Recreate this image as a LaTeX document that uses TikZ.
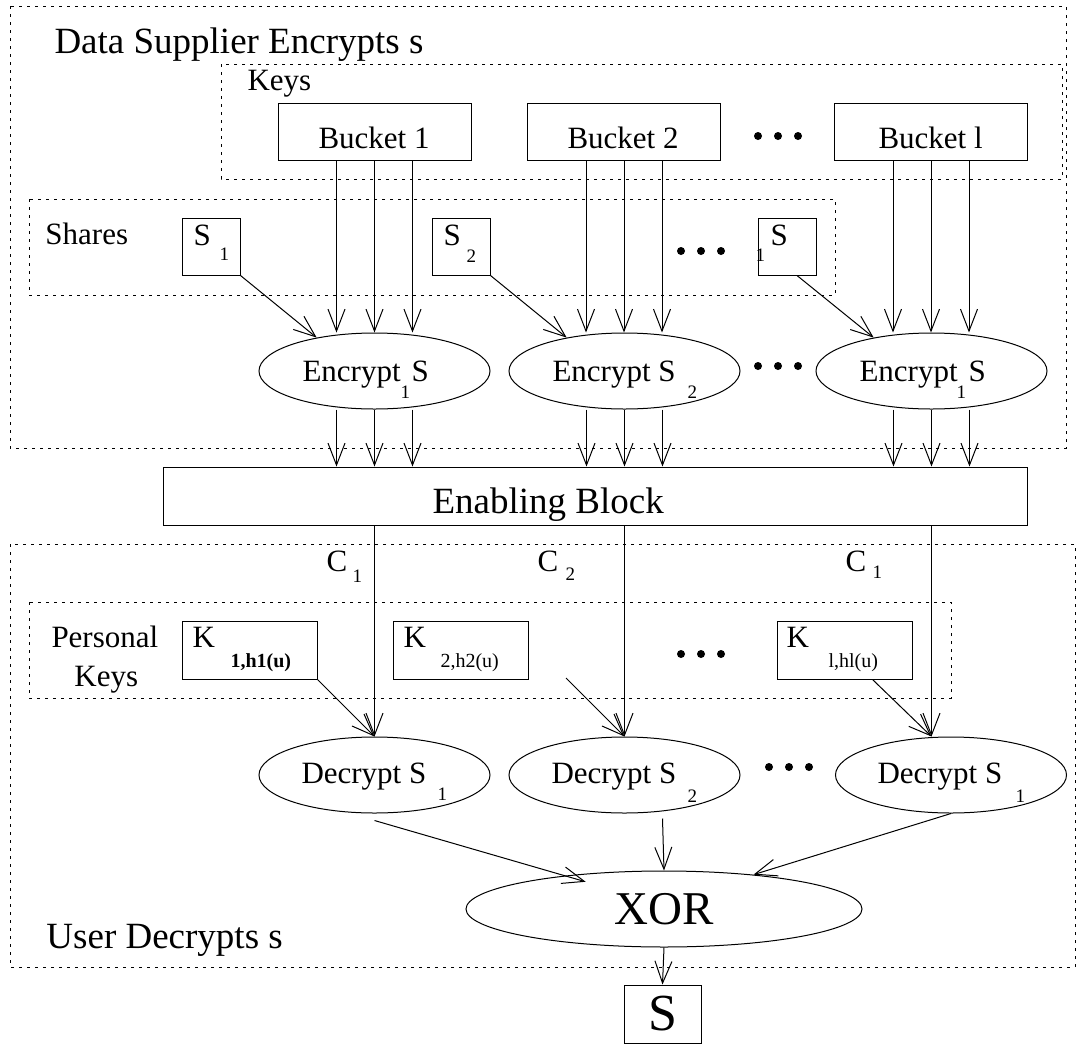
\documentclass[tikz,border=0pt]{standalone}
\usepackage{fontspec}
\setmainfont{Liberation Serif}
\usepackage{tikz}
\usetikzlibrary{arrows.meta,shapes.geometric}

\begin{document}
\begin{tikzpicture}[x=0.5pt,y=-0.5pt,line width=0.5pt,
            grp/.style={dash pattern=on 1.5pt off 2.5pt},
            blk/.style={draw,rectangle,inner sep=0pt},
            bucket/.style={blk,minimum width=96.5pt,minimum height=28.5pt},
            share/.style={blk,minimum width=29pt,minimum height=28.5pt},
            kbox/.style={blk,minimum width=67.5pt,minimum height=29pt},
            oval/.style={draw,ellipse,inner sep=0pt,minimum width=115.5pt,minimum height=38pt},
            arr/.style={-{Straight Barb[length=11pt,width=8.5pt]}},
            lbl/.style={inner sep=0pt,anchor=base west,font=\fontsize{15.5}{18}\selectfont},
            biglbl/.style={lbl,font=\fontsize{18.5}{22}\selectfont},
            sublbl/.style={lbl,font=\fontsize{9.5}{11}\selectfont},
            klbl/.style={lbl,font=\fontsize{10}{12}\selectfont}]
            \useasboundingbox (0,0) rectangle (1078,1045);

            \draw[grp]  (10,6) rectangle (1066,448);
            \draw[grp]  (221,64) rectangle (1062,179);
            \draw[grp]  (29,199) rectangle (835,295);
            \draw[grp]  (10,544) rectangle (1075,967);
            \draw[grp]  (29,602) rectangle (951,698);

            \node[biglbl] (suptitle) at (54,53) {Data Supplier Encrypts s};
            \node[biglbl] (usrtitle) at (46,948) {User Decrypts s};
            \node[lbl] (keystitle) at (247,90) {Keys};
            \node[lbl] (sharestitle) at (45,244) {Shares};
            \node[lbl] (perstitle) at (51,647) {Personal};
            \node[lbl] (perstitleb) at (74,686) {Keys};

            \node[bucket] (bk1) at (374.5,131.5) {};
            \node[bucket] (bk2) at (624,131.5) {};
            \node[bucket] (bkl) at (931,131.5) {};
            \node[lbl] (bk1t) at (318,148) {Bucket 1};
            \node[lbl] (bk2t) at (567,148) {Bucket 2};
            \node[lbl] (bklt) at (878,148) {Bucket l};

            \node[share] (sh1) at (211,246.5) {};
            \node[share] (sh2) at (461,246.5) {};
            \node[share] (shl) at (787,246.5) {};
            \node[lbl] (sh1t) at (193,245) {S};
            \node[sublbl] (sh1s) at (219,260) {1};
            \node[lbl] (sh2t) at (443,245) {S};
            \node[sublbl] (sh2s) at (466,262) {2};
            \node[lbl] (shlt) at (770,245) {S};
            \node[sublbl] (shls) at (755,261) {1};

            \node[oval] (enc1) at (374.5,371) {};
            \node[oval] (enc2) at (624.5,371) {};
            \node[oval] (encl) at (931.5,371) {};
            \node[lbl] (enc1t) at (302,381) {Encrypt};
            \node[sublbl] (enc1s) at (400,398) {1};
            \node[lbl] (enc1u) at (411,381) {S};
            \node[lbl] (enc2t) at (552,381) {Encrypt S};
            \node[sublbl] (enc2s) at (687,398) {2};
            \node[lbl] (enclt) at (859,381) {Encrypt};
            \node[sublbl] (encls) at (956,398) {1};
            \node[lbl] (enclu) at (968,381) {S};

            \node[blk,minimum width=432pt,minimum height=29pt] (enab) at (595,496) {};
            \node[biglbl] (enabt) at (432,513) {Enabling Block};

            \node[lbl] (c1t) at (326,571) {C};
            \node[sublbl] (c1s) at (352,582) {1};
            \node[lbl] (c2t) at (537,571) {C};
            \node[sublbl] (c2s) at (565,580) {2};
            \node[lbl] (clt) at (845,571) {C};
            \node[sublbl] (cls) at (872,578) {1};

            \node[kbox] (k1) at (249.5,650) {};
            \node[kbox] (k2) at (461,650) {};
            \node[kbox] (kl) at (844.5,650) {};
            \node[lbl] (k1t) at (192,647) {K};
            \node[klbl,font=\fontsize{10}{12}\selectfont\bfseries] (k1s) at (230,667) {1,h1(u)};
            \node[lbl] (k2t) at (403,647) {K};
            \node[klbl] (k2s) at (440,667) {2,h2(u)};
            \node[lbl] (klt) at (786,647) {K};
            \node[klbl] (kls) at (828,667) {l,hl(u)};

            \node[oval] (dec1) at (374.5,775) {};
            \node[oval] (dec2) at (624.5,775) {};
            \node[oval] (decl) at (951,775) {};
            \node[lbl] (dec1t) at (301,783) {Decrypt S};
            \node[sublbl] (dec1s) at (437,800) {1};
            \node[lbl] (dec2t) at (551,783) {Decrypt S};
            \node[sublbl] (dec2s) at (687,802) {2};
            \node[lbl] (declt) at (877,783) {Decrypt S};
            \node[sublbl] (decls) at (1015,802) {1};

            \node[draw,ellipse,inner sep=0pt,minimum width=198pt,minimum height=38pt,
                font=\fontsize{23.5}{28}\selectfont] (xorn) at (664,909) {XOR};
            \node[blk,minimum width=38.5pt,minimum height=29pt,
                font=\fontsize{26}{30}\selectfont] (sbox) at (662.5,1014) {S};

            \fill (758,136) circle[radius=2pt];
            \fill (778,136) circle[radius=2pt];
            \fill (798,136) circle[radius=2pt];
            \fill (681,251) circle[radius=2pt];
            \fill (701,251) circle[radius=2pt];
            \fill (721,251) circle[radius=2pt];
            \fill (758,366) circle[radius=2pt];
            \fill (778,366) circle[radius=2pt];
            \fill (798,366) circle[radius=2pt];
            \fill (681,654) circle[radius=2pt];
            \fill (701,654) circle[radius=2pt];
            \fill (721,654) circle[radius=2pt];
            \fill (769,767) circle[radius=2pt];
            \fill (789,767) circle[radius=2pt];
            \fill (809,767) circle[radius=2pt];

            \draw[arr]  ([xshift=-19pt]bk1.south) -- ([xshift=-19pt]bk1.south |- enc1.north);
            \draw[arr]  (bk1.south) -- (bk1.south |- enc1.north);
            \draw[arr]  ([xshift=19pt]bk1.south) -- ([xshift=19pt]bk1.south |- enc1.north);
            \draw[arr]  ([xshift=-19pt]bk2.south) -- ([xshift=-19pt]bk2.south |- enc2.north);
            \draw[arr]  (bk2.south) -- (bk2.south |- enc2.north);
            \draw[arr]  ([xshift=19pt]bk2.south) -- ([xshift=19pt]bk2.south |- enc2.north);
            \draw[arr]  ([xshift=-19pt]bkl.south) -- ([xshift=-19pt]bkl.south |- encl.north);
            \draw[arr]  (bkl.south) -- (bkl.south |- encl.north);
            \draw[arr]  ([xshift=19pt]bkl.south) -- ([xshift=19pt]bkl.south |- encl.north);

            \draw[arr]  (sh1.south east) -- (enc1.150);
            \draw[arr]  (sh2.south east) -- (enc2.150);
            \draw[arr]  ([xshift=5pt]shl.south) -- (encl.150);

            \draw[arr]  ([xshift=-19pt]enc1.south) -- ([xshift=-19pt]enc1.south |- enab.north);
            \draw[arr]  (enc1.south) -- (enc1.south |- enab.north);
            \draw[arr]  ([xshift=19pt]enc1.south) -- ([xshift=19pt]enc1.south |- enab.north);
            \draw[arr]  ([xshift=-19pt]enc2.south) -- ([xshift=-19pt]enc2.south |- enab.north);
            \draw[arr]  (enc2.south) -- (enc2.south |- enab.north);
            \draw[arr]  ([xshift=19pt]enc2.south) -- ([xshift=19pt]enc2.south |- enab.north);
            \draw[arr]  ([xshift=-19pt]encl.south) -- ([xshift=-19pt]encl.south |- enab.north);
            \draw[arr]  (encl.south) -- (encl.south |- enab.north);
            \draw[arr]  ([xshift=19pt]encl.south) -- ([xshift=19pt]encl.south |- enab.north);

            \draw[arr]  (enab.south -| enc1) -- (dec1.north);
            \draw[arr]  (enab.south -| enc2) -- (dec2.north);
            \draw[arr]  (enab.south -| encl) -- (encl |- decl.north);

            \coordinate (k2tail) at (566,678);
            \draw[arr]  (k1.south east) -- (dec1.north);
            \draw[arr]  (k2tail) -- (dec2.north);
            \draw[arr]  ([xshift=14pt]kl.south) -- (encl |- decl.north);

            \draw[arr]  ([yshift=-3.5pt]dec1.south) -- ([xshift=31pt]xorn.north west);
            \draw[arr]  ([xshift=19pt,yshift=-2.5pt]dec2.south) -- (xorn.north);
            \draw[arr]  (decl.south) -- (xorn.21);
            \draw[arr]  (xorn.south) -- (sbox.north);
\end{tikzpicture}
\end{document}
